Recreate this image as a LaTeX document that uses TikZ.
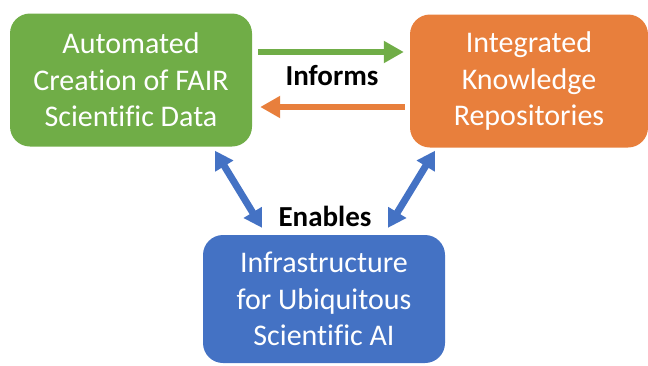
\documentclass[tikz,border=0pt]{standalone}
\usepackage{fontspec}
\setmainfont{Carlito}[Ligatures=NoCommon]
\definecolor{fairgreen}{RGB}{112,173,71}
\definecolor{repoorange}{RGB}{232,127,60}
\definecolor{aiblue}{RGB}{68,114,196}
\usetikzlibrary{arrows.meta}

\begin{document}
\begin{tikzpicture}[x=1pt,y=-1pt,
    box/.style={rounded corners=20pt, minimum width=242pt, minimum height=133pt,
        inner sep=0pt, align=center, text=white, font=\fontsize{30}{36.6}\selectfont},
    tag/.style={font=\fontsize{29}{32}\selectfont\bfseries, text=black},
    flow/.style={line width=6.5pt, -{Triangle[length=20pt,width=21pt]}},
    link/.style={line width=7pt, aiblue,
        {Triangle[length=18pt,width=20pt]}-{Triangle[length=18pt,width=20pt]}}]
    \useasboundingbox (0,0) rectangle (648,365);

    % Boxes
    \node[box, fill=fairgreen] (fair) at (131,80) {Automated\\Creation of FAIR\\Scientific Data};
    \node[box, fill=repoorange, minimum width=238pt] (repo) at (529,81) {Integrated\\Knowledge\\Repositories};
    \node[box, fill=aiblue, minimum height=128pt] (ai) at (324,299) {Infrastructure\\for Ubiquitous\\Scientific AI};

    % Informs arrows
    \draw[flow, fairgreen] ([xshift=6pt,yshift=28pt]fair.east) -- ([xshift=-6pt,yshift=29pt]repo.west);
    \draw[flow, repoorange] ([xshift=-5pt,yshift=-26pt]repo.west) -- ([xshift=8pt,yshift=-27pt]fair.east);
    \node[tag] (informs) at (332,76) {Informs};

    % Enables arrows
    \draw[link] ([xshift=84pt,yshift=-4pt]fair.south) -- ([xshift=-62pt,yshift=7pt]ai.north);
    \draw[link] ([xshift=-94pt,yshift=-3pt]repo.south) -- ([xshift=64pt,yshift=7pt]ai.north);
    \node[tag] (enables) at (325,216) {Enables};
\end{tikzpicture}
\end{document}
